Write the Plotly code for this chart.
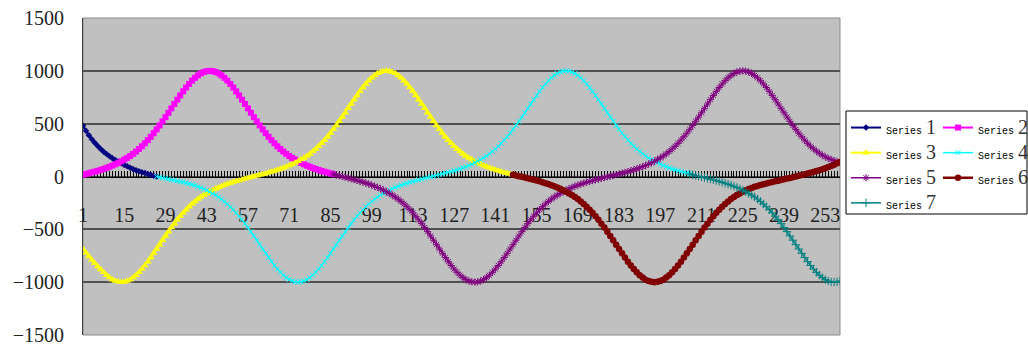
import plotly.graph_objects as go

# Category axis (1..258) and labelled categories
categories = list(range(1, 259))
x_tick_values = [1, 15, 29, 43, 57, 71, 85, 99, 113, 127, 141, 155, 169, 183, 197, 211, 225, 239, 253]

# Series values, each starting at its own category
series1_start = 1
series1 = [480, 433, 391, 353, 319, 288, 260, 235, 212, 191, 173, 156, 141, 125, 110, 96, 83, 71,
           60, 50, 41, 32, 24, 16, 8, 0]

series2_start = 1
series2 = [17, 24, 31, 39, 46, 54, 63, 72, 82, 92, 104, 116, 130, 144,
           160, 176, 194, 214, 236, 260, 286, 314, 344, 376, 410, 446, 483, 522, 562, 603, 645, 686,
           727, 767, 806, 842, 876, 907, 934, 957, 976, 989, 997, 1000,
           997, 989, 976, 957, 934, 907, 876, 842, 806, 767, 727, 686, 645, 603, 562, 522, 483, 446,
           410, 376, 344, 314, 286, 260, 236, 214, 194, 176, 160,
           144, 129, 116, 103, 92, 81, 71, 62, 53, 45, 37, 29, 22]

series3_start = 1
series3 = [-685, -722, -757, -790, -822, -852, -880, -907, -934, -957, -976, -989, -997, -1000,
           -997, -989, -976, -957, -934, -907, -876, -842, -806, -767, -727, -686, -645, -603, -562,
           -522, -483, -446, -410, -376, -344, -314, -286, -260, -236, -214, -194, -176, -160,
           -144, -129, -116, -103, -92, -81, -71, -62, -53, -45, -37, -29, -22, -14, -7, 0, 7, 14, 22,
           29, 37, 45, 53, 62, 71, 81, 92, 103, 116, 129, 144,
           160, 176, 194, 214, 236, 260, 286, 314, 344, 376, 410, 446, 483, 522, 562, 603, 645, 686,
           727, 767, 806, 842, 876, 907, 934, 957, 976, 989, 997, 1000,
           997, 989, 976, 957, 934, 907, 876, 842, 806, 767, 727, 686, 645, 603, 562, 522, 483, 446,
           410, 376, 344, 314, 286, 260, 236, 214, 194, 176, 160,
           145, 130, 116, 104, 92, 82, 72, 63, 54, 46, 39, 31, 24, 17]

series4_start = 26
series4 = [0, -6, -12, -18, -24, -30, -35, -41,
           -47, -53, -60, -68, -76, -85, -95, -106, -118, -131, -145, -160, -176, -194, -214, -236,
           -260, -286, -314, -344, -376, -410, -446, -483, -522, -562, -603, -645, -686, -727, -767,
           -806, -842, -876, -907, -934, -957, -976, -989, -997, -1000,
           -997, -989, -976, -957, -934, -907, -876, -842, -806, -767, -727, -686, -645, -603, -562,
           -522, -483, -446, -410, -376, -344, -314, -286, -260, -236, -214, -194, -176, -160,
           -145, -130, -116, -104, -92, -82, -72, -63, -54, -46, -39, -31, -24, -17, -10, -3, 3, 10,
           17, 24, 31, 39, 46, 54, 63, 72, 82, 92, 104, 116, 130, 144,
           160, 176, 194, 214, 236, 260, 286, 314, 344, 376, 410, 446, 483, 522, 562, 603, 645, 686,
           727, 767, 806, 842, 876, 907, 934, 957, 976, 989, 997, 1000,
           997, 989, 976, 957, 934, 907, 876, 842, 806, 767, 727, 686, 645, 603, 562, 522, 483, 446,
           410, 376, 344, 314, 286, 260, 236, 214, 194, 176, 160,
           145, 130, 116, 104, 92, 82, 72, 63, 54, 46, 39, 31, 24]

series5_start = 86
series5 = [22, 14, 7, 0, -7, -14, -22, -29, -37, -45, -53, -62, -71, -81, -92, -103, -116, -129, -144,
           -160, -176, -194, -214, -236, -260, -286, -314, -344, -376, -410, -446, -483, -522, -562,
           -603, -645, -686, -727, -767, -806, -842, -876, -907, -934, -957, -976, -989, -997, -1000,
           -997, -989, -976, -957, -934, -907, -876, -842, -806, -767, -727, -686, -645, -603, -562,
           -522, -483, -446, -410, -376, -344, -314, -286, -260, -236, -214, -194, -176, -160,
           -145, -130, -116, -104, -92, -82, -72, -63, -54, -46, -39, -31, -24, -17, -10, -3, 3, 10,
           17, 24, 31, 39, 46, 54, 63, 72, 82, 92, 104, 116, 130, 144,
           160, 176, 194, 214, 236, 260, 286, 314, 344, 376, 410, 446, 483, 522, 562, 603, 645, 686,
           727, 767, 806, 842, 876, 907, 934, 957, 976, 989, 997, 1000,
           997, 989, 976, 957, 934, 907, 876, 842, 806, 767, 727, 686, 645, 603, 562, 522, 483, 446,
           410, 376, 344, 314, 286, 262, 240, 220, 202, 186,
           172, 160, 150, 141]

series6_start = 147
series6 = [17, 10, 3, -3, -10, -17, -24, -31, -39, -46, -54, -63, -72, -82, -92, -104, -116, -130, -144,
           -160, -176, -194, -214, -236, -260, -286, -314, -344, -376, -410, -446, -483, -522, -562,
           -603, -645, -686, -727, -767, -806, -842, -876, -907, -934, -957, -976, -989, -997, -1000,
           -997, -989, -976, -957, -934, -907, -876, -842, -806, -767, -727, -686, -645, -603, -562,
           -522, -483, -446, -410, -376, -344, -314, -286, -260, -236, -214, -194, -176, -160,
           -145, -131, -119, -108, -98, -89, -81, -73, -66, -59, -52, -46, -40, -33, -27, -20, -14, -7,
           0, 7, 14, 21, 28, 35, 43, 51, 60, 69, 79, 89, 100, 112, 125, 138]

series7_start = 207
series7 = [24, 17, 10, 3, -3, -10, -17, -24, -31, -39, -46, -54, -63, -72, -82, -92, -104, -116, -130,
           -144,
           -160, -176, -194, -214, -236, -260, -286, -314, -344, -376, -410, -446, -483, -522, -562,
           -603, -645, -686, -727, -767, -806, -842, -876, -907, -934, -957, -976, -989, -997, -1000,
           -997, -989]

series_names = ["1", "2", "3", "4", "5", "6", "7"]
series_values = [series1, series2, series3, series4, series5, series6, series7]
series_starts = [series1_start, series2_start, series3_start, series4_start,
                 series5_start, series6_start, series7_start]

# Excel-like palette and marker styles
colors = ["#000080", "#FF00FF", "#FFFF00", "#00FFFF", "#800080", "#800000", "#008080"]
symbols = ["diamond", "square", "triangle-up", "x-thin-open", "asterisk-open", "circle", "cross-thin-open"]
marker_sizes = [5, 6, 7, 5, 6, 6.5, 6]
line_widths = [2, 2, 2, 1.5, 1.5, 2.5, 1.5]
legend_ids = ["legend", "legend2", "legend", "legend2", "legend", "legend2", "legend"]

W, H = 1028, 345
M_L, M_R, M_T, M_B = 83, 188, 18, 10
PW = W - M_L - M_R
PH = H - M_T - M_B


def px_x(px):
    return (px - M_L) / PW


def px_y(py):
    return (H - M_B - py) / PH


fig = go.Figure()
for i, vals in enumerate(series_values):
    start = series_starts[i] - 1
    xs = categories[start:start + len(vals)]
    open_sym = symbols[i].endswith("-open")
    marker = dict(symbol=symbols[i], size=marker_sizes[i], color=colors[i])
    if open_sym:
        marker["line"] = dict(color=colors[i], width=1)
    else:
        marker["line"] = dict(width=0)
    label = ('<span style="font-family:Liberation Mono;font-size:10px;color:#000000">Series</span>'
             '<span style="font-family:Liberation Serif;font-size:20px">\u2009' + series_names[i] + '</span>')
    fig.add_trace(go.Scatter(
        x=xs, y=vals, mode="lines+markers", name=label,
        line=dict(color=colors[i], width=line_widths[i]),
        marker=marker, legend=legend_ids[i],
    ))

axis_font = dict(family="Liberation Serif", size=20, color="#222222")

fig.update_layout(
    width=W, height=H,
    margin=dict(l=M_L, r=M_R, t=M_T, b=M_B, pad=0, autoexpand=False),
    paper_bgcolor="white",
    plot_bgcolor="#C0C0C0",
    showlegend=True,
    # category axis drawn along the zero line: line plus a tick at every category,
    # labels every 14 categories set a little below the tick comb
    xaxis=dict(
        range=[categories[0], categories[-1]],
        anchor="free", position=0.5,
        showline=True, linecolor="#000000", linewidth=1,
        ticks="inside", ticklen=6, tickwidth=1, tickcolor="#000000",
        tickmode="array", tickvals=x_tick_values,
        minor=dict(ticks="inside", ticklen=6, tickwidth=1, tickcolor="#000000",
                   tick0=categories[0], dtick=1, showgrid=False),
        tickfont=axis_font, ticklabelstandoff=20,
        showgrid=False, zeroline=False,
        layer="below traces", automargin=False,
    ),
    yaxis=dict(
        range=[-1500, 1500], tick0=0, dtick=500,
        showline=True, linecolor="#404040", linewidth=1,
        ticks="", showgrid=True, gridcolor="#505050", gridwidth=1.5,
        zeroline=False, tickfont=axis_font, ticklabelstandoff=14,
        ticklabeloverflow="allow",
        layer="below traces", automargin=False,
    ),
    legend=dict(
        x=px_x(846), xanchor="left", y=px_y(110), yanchor="top",
        bgcolor="rgba(0,0,0,0)", borderwidth=0,
        font=dict(family="Liberation Serif", size=17, color="#333333"),
        tracegroupgap=0, orientation="v",
    ),
    legend2=dict(
        x=px_x(938), xanchor="left", y=px_y(110), yanchor="top",
        bgcolor="rgba(0,0,0,0)", borderwidth=0,
        font=dict(family="Liberation Serif", size=17, color="#333333"),
        tracegroupgap=0, orientation="v",
    ),
    shapes=[
        # plot-area frame
        dict(type="rect", xref="paper", yref="paper", x0=0, x1=1, y0=0, y1=1,
             line=dict(color="#8a8a8a", width=1), layer="below"),
        # legend frame
        dict(type="rect", xref="paper", yref="paper",
             x0=px_x(846), x1=px_x(1027), y0=px_y(214), y1=px_y(111),
             line=dict(color="#000000", width=1), fillcolor="rgba(0,0,0,0)", layer="above"),
    ],
)

fig.write_html("out.html")
